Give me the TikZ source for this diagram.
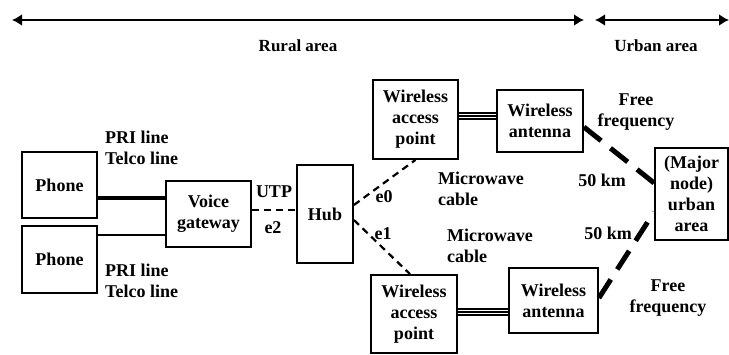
\documentclass[tikz,border=0pt]{standalone}
\usepackage{fontspec}
\setmainfont{Liberation Serif}
\usepackage{tikz}
\usetikzlibrary{arrows.meta,calc}

\begin{document}
\begin{tikzpicture}[
    x=1pt, y=-1pt,
    font=\fontsize{18}{21}\selectfont\bfseries,
    box/.style={draw, line width=1.8pt, inner sep=0pt, align=center},
    lbl/.style={inner sep=0pt, align=left},
    span/.style={{Latex[length=10pt,width=12pt]}-{Latex[length=10pt,width=12pt]}, line width=2.6pt},
    trunk/.style={line width=#1},
    lan/.style={dashed, line width=2.2pt, dash pattern=on 7pt off 5pt},
    radio/.style={line width=5pt, dash pattern=on 22pt off 12pt},
    wire/.style={line width=1.3pt}
]
    \useasboundingbox (0,0) rectangle (729,354);

    % area spans
    \coordinate (ruralL) at (12,20);
    \coordinate (ruralR) at (584,20);
    \coordinate (urbanL) at (595,20);
    \coordinate (urbanR) at (729,20);
    \draw[span] (ruralL) -- (ruralR);
    \draw[span] (urbanL) -- (urbanR);
    \node[font=\fontsize{17}{20}\selectfont\bfseries] (rural) at (298,46) {Rural area};
    \node[font=\fontsize{17}{20}\selectfont\bfseries] (urban) at (656,46) {Urban area};

    % boxes
    \node[box, minimum width=75pt, minimum height=66pt] (phoneA) at (59.5,185) {Phone};
    \node[box, minimum width=75pt, minimum height=67pt] (phoneB) at (59.5,259.5) {Phone};
    \node[box, minimum width=85pt, minimum height=66pt] (gateway) at (208.5,214) {Voice\\gateway};
    \node[box, minimum width=56pt, minimum height=98pt] (hub) at (325,214) {Hub};
    \node[box, minimum width=85pt, minimum height=79pt] (wapA) at (415.5,119.5) {Wireless\\access\\point};
    \node[box, minimum width=86pt, minimum height=62pt] (antA) at (540,121) {Wireless\\antenna};
    \node[box, minimum width=86pt, minimum height=78pt] (wapB) at (414,314) {Wireless\\access\\point};
    \node[box, minimum width=89pt, minimum height=65pt] (antB) at (553.5,300.5) {Wireless\\antenna};
    \node[box, minimum width=73pt, minimum height=92pt] (major) at (691.5,194) {(Major\\node)\\urban\\area};

    % links
    \draw[trunk=3.8pt] ([yshift=-13pt]phoneA.east) -- ([yshift=-13pt]phoneA.east -| gateway.west);
    \draw[trunk=2.4pt] ([yshift=24.5pt]phoneB.east) -- ([yshift=24.5pt]phoneB.east -| gateway.west);
    \draw[lan, line width=2.8pt] ([yshift=4pt]gateway.east) -- ([yshift=4pt]gateway.east -| hub.west);
    \draw[lan] ([yshift=9pt]hub.east) -- (wapA.south);
    \draw[lan] ([yshift=-6pt]hub.east) -- ([xshift=-4pt]wapB.north);
    \foreach \d in {-3,0,3} {
        \draw[wire] ([yshift=3.5pt+\d pt]wapA.east) -- ([yshift=3.5pt+\d pt]wapA.east -| antA.west);
        \draw[wire] ([yshift=2pt+\d pt]wapB.east) -- ([yshift=2pt+\d pt]wapB.east -| antB.west);
    }
    \draw[radio] ([yshift=-6pt]antA.east) -- ([yshift=11pt]major.west);
    \draw[radio] ([yshift=2.5pt]antB.east) -- ([yshift=-18pt]major.west);

    % labels
    \node[lbl, anchor=west] (priA) at (105,147.5) {PRI line\\Telco line};
    \node[lbl, anchor=west] (priB) at (105,281) {PRI line\\Telco line};
    \node (utp) at (274,192) {UTP};
    \node (etwo) at (273,228) {e2};
    \node (ezero) at (384,197) {e0};
    \node (eone) at (383,234) {e1};
    \node[lbl, anchor=west] (mwA) at (438,189) {Microwave\\cable};
    \node[lbl, anchor=west] (mwB) at (447,246) {Microwave\\cable};
    \node (kmA) at (602,180) {50 km};
    \node (kmB) at (608,233) {50 km};
    \node[inner sep=0pt, align=center] (freeA) at (636,112) {Free\\frequency};
    \node[inner sep=0pt, align=center] (freeB) at (668,298) {Free\\frequency};
\end{tikzpicture}
\end{document}
